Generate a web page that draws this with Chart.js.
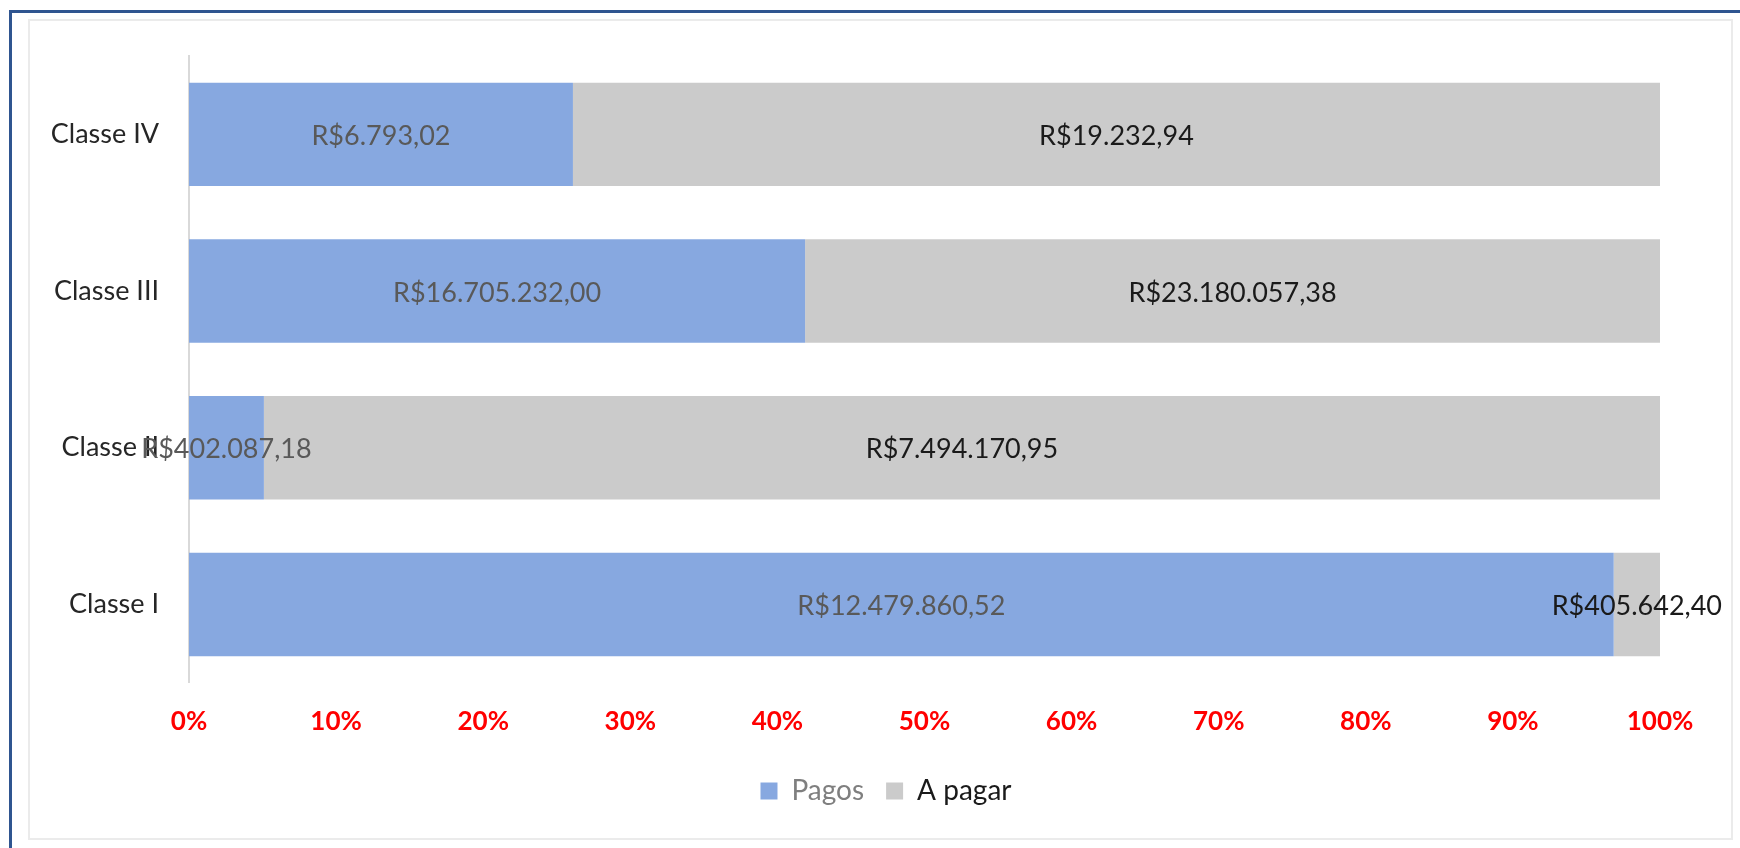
<!DOCTYPE html>
<html>
<head>
<meta charset="utf-8">
<script src="https://cdn.jsdelivr.net/npm/chart.js@4"></script>
<style>
    html, body { margin: 0; padding: 0; background: #fff; }
    body { width: 1740px; height: 848px; position: relative; overflow: hidden; }
    #frame { position: absolute; left: 9px; top: 10px; width: 1760px; height: 860px;
             border-left: 3px solid #2f5590; border-top: 3px solid #2f5590; }
    #box { position: absolute; left: 28px; top: 19px; width: 1701px; height: 817px;
           border: 2px solid #ebebeb; }
    #wrap { position: absolute; left: 0; top: 0; width: 1740px; height: 848px; }
</style>
</head>
<body>
<div id="frame"></div>
<div id="box"></div>
<div id="wrap"><canvas id="barChart"></canvas></div>
<script>
const classes = ['Classe I', 'Classe II', 'Classe III', 'Classe IV'];
const pagos = [12479860.52, 402087.18, 16705232.00, 6793.02];
const aPagar = [405642.40, 7494170.95, 23180057.38, 19232.94];
const xTicks = [0, 10, 20, 30, 40, 50, 60, 70, 80, 90, 100];

const totals = pagos.map((v, i) => v + aPagar[i]);
const pct = arr => arr.map((v, i) => v / totals[i] * 100);

function brl(v) {
    const parts = v.toFixed(2).split('.');
    const int = parts[0].replace(/\B(?=(\d{3})+(?!\d))/g, '.');
    return 'R$' + int + ',' + parts[1];
}

const FONT = 'Lato, "Open Sans", sans-serif';
const labelColors = ['#595959', '#1a1a1a'];
const rawValues = [pagos, aPagar];

// labels drawn in the middle of each segment
const valueLabels = {
    id: 'valueLabels',
    afterDatasetsDraw(chart) {
        const c = chart.ctx;
        c.save();
        c.font = '27px ' + FONT;
        c.textBaseline = 'middle';
        c.textAlign = 'center';
        chart.data.datasets.forEach((ds, di) => {
            const meta = chart.getDatasetMeta(di);
            meta.data.forEach((bar, i) => {
                const txt = brl(rawValues[di][i]);
                const w = c.measureText(txt).width;
                let x = (bar.x + bar.base) / 2;
                const maxRight = chart.width - 18;
                if (x + w / 2 > maxRight) x = maxRight - w / 2;
                c.fillStyle = labelColors[di];
                c.fillText(txt, x, bar.y + 2);
            });
        });
        c.restore();
    }
};

// legend sits a bit right of the canvas centre
const legendShift = {
    id: 'legendShift',
    afterLayout(chart) {
        chart.legend.left += 56;
        chart.legend.right += 56;
    }
};

const ctx = document.getElementById('barChart').getContext('2d');
const barChart = new Chart(ctx, {
    type: 'bar',
    data: {
        labels: classes,
        datasets: [
            {
                label: 'Pagos',
                data: pct(pagos),
                backgroundColor: '#87a8e0',
                barPercentage: 0.66,
                categoryPercentage: 1
            },
            {
                label: 'A pagar',
                data: pct(aPagar),
                backgroundColor: '#cbcbcb',
                barPercentage: 0.66,
                categoryPercentage: 1
            }
        ]
    },
    options: {
        indexAxis: 'y',
        responsive: true,
        maintainAspectRatio: false,
        animation: false,
        layout: { padding: { top: 56, right: 80, left: 0, bottom: 33 } },
        scales: {
            x: {
                stacked: true,
                min: 0,
                max: 100,
                afterBuildTicks: s => { s.ticks = xTicks.map(v => ({ value: v })); },
                afterFit: s => { s.height += 3; },
                grid: { display: false },
                border: { display: false },
                ticks: {
                    padding: 15,
                    color: '#ff0000',
                    font: { family: FONT, size: 26, weight: 'bold' },
                    callback: v => v + '%'
                }
            },
            y: {
                stacked: true,
                reverse: true,
                afterFit: s => { s.width = 189; },
                grid: { display: false, drawTicks: false },
                border: { display: true, color: '#d9d9d9', width: 2 },
                ticks: {
                    padding: 30,
                    color: '#262626',
                    font: { family: FONT, size: 27 }
                }
            }
        },
        plugins: {
            legend: {
                position: 'bottom',
                labels: {
                    boxWidth: 17,
                    boxHeight: 17,
                    padding: 22,
                    font: { family: FONT, size: 28 },
                    generateLabels: chart => chart.data.datasets.map((ds, i) => ({
                        text: ds.label,
                        fillStyle: ds.backgroundColor,
                        strokeStyle: ds.backgroundColor,
                        lineWidth: 0,
                        fontColor: i === 0 ? '#7f7f7f' : '#1a1a1a',
                        datasetIndex: i
                    }))
                }
            },
            tooltip: { enabled: false }
        }
    },
    plugins: [valueLabels, legendShift]
});
</script>
</body>
</html>
